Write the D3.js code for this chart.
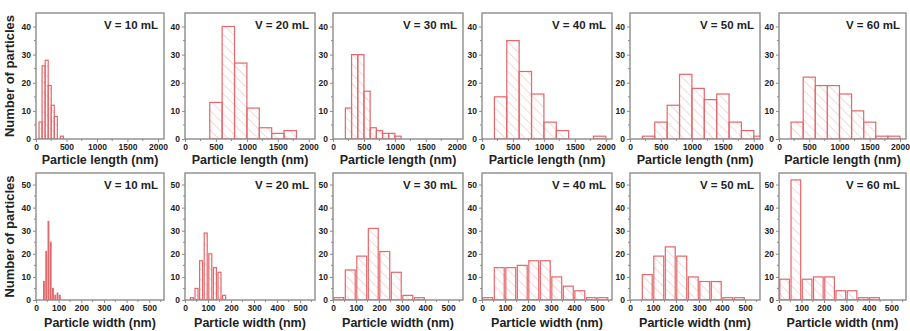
<!DOCTYPE html>
<html><head><meta charset="utf-8">
<script src="https://cdn.jsdelivr.net/npm/d3@7"></script>
<style>body{margin:0;background:#fff}svg{display:block}</style>
</head><body><svg id="c" width="910" height="331"></svg>
<script>
// ---- data ----
const volumes = ["V = 10 mL","V = 20 mL","V = 30 mL","V = 40 mL","V = 50 mL","V = 60 mL"];
const lengthTicks = [0,500,1000,1500,2000];
const widthTicks = [0,100,200,300,400,500];
const lengthCountTicks = [0,10,20,30,40];
const widthCountTicks = [0,10,20,30,40,50];
// each bin: [start, end, count]
const len10 = [[50,100,6],[100,150,26],[150,200,28],[200,250,19],[250,300,12],[300,350,8],[400,450,1]];
const len20 = [[400,600,13],[600,800,40],[800,1000,27],[1000,1200,11],[1200,1400,4],[1400,1600,2],[1600,1800,3]];
const len30 = [[200,300,11],[300,400,30],[400,500,30],[500,600,17],[600,700,4],[700,800,3],[800,900,2],[900,1000,2],[1000,1100,1]];
const len40 = [[200,400,15],[400,600,35],[600,800,24],[800,1000,16],[1000,1200,6],[1200,1400,3],[1800,2000,1]];
const len50 = [[200,400,1],[400,600,6],[600,800,12],[800,1000,23],[1000,1200,18],[1200,1400,14],[1400,1600,16],[1600,1800,6],[1800,2000,3],[2000,2200,1]];
const len60 = [[200,400,6],[400,600,22],[600,800,19],[800,1000,19],[1000,1200,16],[1200,1400,10],[1400,1600,6],[1600,1800,1],[1800,2000,1]];
const wid10 = [[30,40,8],[40,50,21],[50,60,34],[60,70,25],[70,80,5],[80,90,2],[90,100,3],[100,110,2]];
const wid20 = [[20,40,1],[40,60,5],[60,80,17],[80,100,29],[100,120,20],[120,140,14],[140,160,12],[160,180,2]];
const wid30 = [[0,50,1],[50,100,13],[100,150,19],[150,200,31],[200,250,21],[250,300,12],[300,350,2],[350,400,1]];
const wid40 = [[0,50,1],[50,100,14],[100,150,14],[150,200,15],[200,250,17],[250,300,17],[300,350,10],[350,400,6],[400,450,4],[450,500,1],[500,550,1]];
const wid50 = [[50,100,11],[100,150,19],[150,200,23],[200,250,19],[250,300,10],[300,350,8],[350,400,8],[400,450,1],[450,500,1]];
const wid60 = [[0,50,9],[50,100,52],[100,150,9],[150,200,10],[200,250,10],[250,300,4],[300,350,4],[350,400,1],[400,450,1]];
const lengthData = [len10,len20,len30,len40,len50,len60];
const widthData = [wid10,wid20,wid30,wid40,wid50,wid60];

// ---- layout ----
const svg = d3.select("#c");
const panelLefts = [36,185,333,482,630,779];
const panelWidths = [128,130,130,130,130,127];
const rows = [
  {top:13, bottom:139, xDom:[0,2100], yDom:[0,44.8], xt:lengthTicks, yt:lengthCountTicks, ym:5, xm:250, data:lengthData, xlabel:"Particle length (nm)", xlabY:164, gap:0},
  {top:173, bottom:300, xDom:[0,565], yDom:[0,55], xt:widthTicks, yt:widthCountTicks, ym:5, xm:50, data:widthData, xlabel:"Particle width (nm)", xlabY:327, gap:0.8}
];
const frameCol = "#8c8c8c", barCol = "#e4676b", hatchCol = "#f2b3b5", textCol = "#222";
const font = "Arial, 'Liberation Sans', sans-serif";

const defs = svg.append("defs");
const pat = defs.append("pattern").attr("id","hatch").attr("patternUnits","userSpaceOnUse")
  .attr("width",7).attr("height",7).attr("patternTransform","rotate(-45)");
pat.append("line").attr("x1",0).attr("y1",0).attr("x2",0).attr("y2",7)
  .attr("stroke",hatchCol).attr("stroke-width",1.1);

rows.forEach((r,ri)=>{
  panelLefts.forEach((L,pi)=>{
    const pw = panelWidths[pi];
    const x = d3.scaleLinear().domain(r.xDom).range([L,L+pw]);
    const y = d3.scaleLinear().domain(r.yDom).range([r.bottom,r.top]);
    const g = svg.append("g");
    const cid = "clip"+ri+"_"+pi;
    defs.append("clipPath").attr("id",cid).append("rect")
      .attr("x",L).attr("y",r.top).attr("width",pw).attr("height",r.bottom-r.top);
    const bars = g.append("g").attr("clip-path",`url(#${cid})`);
    bars.selectAll("rect").data(r.data[pi]).join("rect")
      .attr("x",d=>x(d[0])+r.gap)
      .attr("y",d=>y(d[2]))
      .attr("width",d=>Math.max(0.5,x(d[1])-x(d[0])-2*r.gap))
      .attr("height",d=>y(0)-y(d[2]))
      .attr("fill","url(#hatch)").attr("stroke",barCol).attr("stroke-width",1.2);
    // axes
    const ya = d3.axisLeft(y).tickValues(r.yt).tickFormat(d3.format("d")).tickSize(3).tickPadding(2);
    const yAx = g.append("g").attr("transform",`translate(${L},0)`).call(ya);
    const xa = d3.axisBottom(x).tickValues(r.xt).tickFormat(d3.format("d")).tickSize(3).tickPadding(2);
    const xAx = g.append("g").attr("transform",`translate(0,${r.bottom})`).call(xa);
    [yAx,xAx].forEach(a=>{
      a.select(".domain").remove();
      a.selectAll("line").attr("stroke",frameCol).attr("stroke-width",1);
      a.selectAll("text").attr("fill",textCol).style("font-family",font)
        .style("font-weight","bold").style("font-size","8.5px");
    });
    // minor ticks
    const ymin = d3.range(r.yDom[0]+r.ym, r.yDom[1], r.ym*2);
    g.selectAll(".ymin").data(ymin).join("line")
      .attr("x1",L-2).attr("x2",L).attr("y1",d=>y(d)).attr("y2",d=>y(d))
      .attr("stroke",frameCol).attr("stroke-width",1);
    const xmin = d3.range(r.xm, r.xDom[1], r.xm*2);
    g.selectAll(".xmin").data(xmin).join("line")
      .attr("y1",r.bottom).attr("y2",r.bottom+2).attr("x1",d=>x(d)).attr("x2",d=>x(d))
      .attr("stroke",frameCol).attr("stroke-width",1);
    // frame
    g.append("rect").attr("x",L).attr("y",r.top).attr("width",pw).attr("height",r.bottom-r.top)
      .attr("fill","none").attr("stroke",frameCol).attr("stroke-width",1.4);
    // volume label
    g.append("text").attr("x",L+pw-6).attr("y",r.top+16).attr("text-anchor","end")
      .attr("fill",textCol).style("font-family",font)
      .style("font-weight","bold").style("font-size","11.5px").text(volumes[pi]);
    // x label
    g.append("text").attr("x",L+pw/2).attr("y",r.xlabY).attr("text-anchor","middle")
      .attr("fill",textCol).style("font-family",font)
      .style("font-weight","bold").style("font-size","12.5px").text(r.xlabel);
  });
  // y label
  svg.append("text").attr("transform",`translate(14,${(r.top+r.bottom)/2}) rotate(-90)`)
    .attr("text-anchor","middle").attr("fill",textCol)
    .style("font-family",font)
    .style("font-weight","bold").style("font-size","13px").text("Number of particles");
});
</script></body></html>
